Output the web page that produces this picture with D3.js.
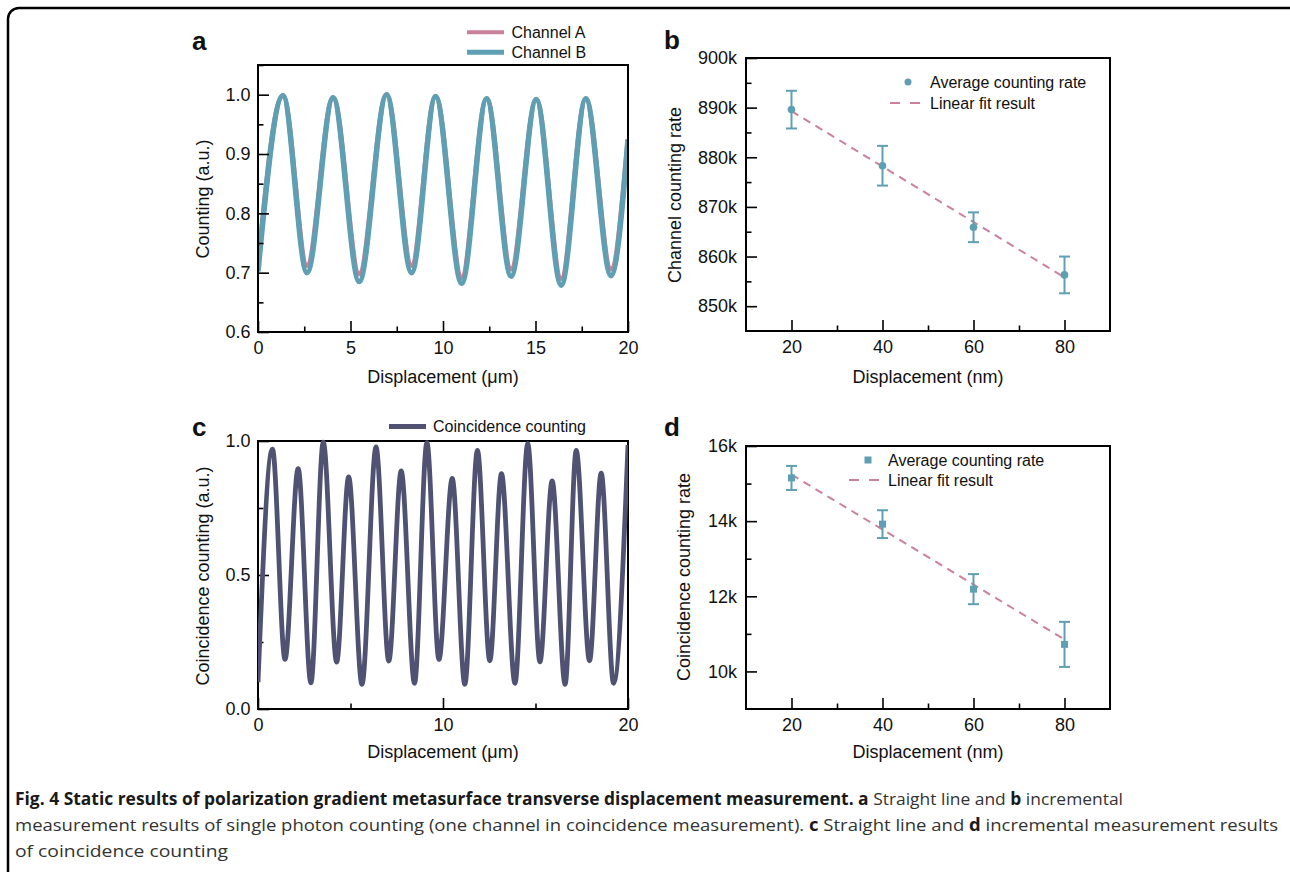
<!DOCTYPE html>
<html>
<head>
<meta charset="utf-8">
<script src="https://cdn.jsdelivr.net/npm/d3@7"></script>
<style>
  html, body { margin: 0; padding: 0; background: #fff; }
  svg { display: block; }
  text { font-family: "Liberation Sans", Arial, Helvetica, sans-serif; fill: #111; }
</style>
</head>
<body>
<svg id="fig" width="1290" height="872"></svg>
<script>
// ---------------- DATA ----------------
// Panel a: extrema (x in µm, normalised counting)
const channelA = [[0,0.710],[1.35,0.998],[2.65,0.712],[4.06,0.995],[5.47,0.698],[6.95,1.0],[8.30,0.712],[9.60,0.997],[11.01,0.692],[12.36,0.993],[13.68,0.706],[15.04,0.992],[16.39,0.690],[17.72,0.993],[19.08,0.706],[20,0.925]];
const channelB = [[0,0.702],[1.35,0.998],[2.65,0.700],[4.06,0.995],[5.47,0.685],[6.95,1.0],[8.30,0.700],[9.60,0.997],[11.01,0.682],[12.36,0.993],[13.68,0.694],[15.04,0.992],[16.39,0.679],[17.72,0.993],[19.08,0.695],[20,0.924]];
const aXTicks = [0,5,10,15,20];
const aXMinor = [2.5,7.5,12.5,17.5];
const aYTicks = [0.6,0.7,0.8,0.9,1.0];
const aYMinor = [0.65,0.75,0.85,0.95,1.05];

// Panel b: average channel counting rate (k counts) vs displacement (nm)
const bDisp = [20,40,60,80];
const bRate = [889.6,878.3,865.9,856.3];
const bErr  = [3.8,4.0,3.0,3.7];
const bFit  = [[20,889.3],[80,855.8]];
const bXTicks = [20,40,60,80];
const bXMinor = [30,50,70];
const bYTicks = [850,860,870,880,890,900];
const bYMinor = [855,865,875,885,895];

// Panel c: coincidence counting extrema
const coincidence = [[0,0.10],[0.78,0.970],[1.46,0.185],[2.17,0.897],[2.86,0.098],[3.53,0.996],[4.25,0.175],[4.90,0.866],[5.62,0.092],[6.38,0.978],[7.07,0.179],[7.74,0.888],[8.46,0.096],[9.13,0.994],[9.78,0.185],[10.50,0.860],[11.18,0.092],[11.86,0.965],[12.53,0.180],[13.16,0.878],[13.89,0.096],[14.58,0.990],[15.24,0.176],[15.90,0.851],[16.60,0.092],[17.20,0.965],[17.92,0.180],[18.55,0.880],[19.22,0.096],[20,0.985]];
const cXTicks = [0,10,20];
const cXMinor = [5,15];
const cYTicks = [0,0.5,1.0];
const cYMinor = [0.25,0.75];

// Panel d: average coincidence counting rate (k) vs displacement (nm)
const dDisp = [20,40,60,80];
const dRate = [15.15,13.92,12.19,10.72];
const dErr  = [0.32,0.37,0.40,0.60];
const dFit  = [[20,15.24],[80,10.85]];
const dXTicks = [20,40,60,80];
const dXMinor = [30,50,70];
const dYTicks = [10,12,14,16];
const dYMinor = [11,13,15];

// ---------------- STYLE ----------------
const colA = "#c98099";
const colB = "#5e9fb3";
const colC = "#4f5273";
const colFit = "#cc8099";
const FONT = 18;

const svg = d3.select("#fig");

// outer rounded frame
svg.append("rect").attr("x", 8).attr("y", 8).attr("width", 1292).attr("height", 875)
  .attr("rx", 11).attr("fill", "none").attr("stroke", "#000").attr("stroke-width", 2.5);

function frame(g, x, y, xT, xM, yT, yM, xFmt, yFmt, xPad, yPad) {
  const [x0, x1] = x.range(), [y0, y1] = y.range();
  g.append("g").attr("transform", `translate(0,${y0})`)
    .call(d3.axisBottom(x).tickValues(xM).tickSize(-5.5).tickFormat(""))
    .call(s => s.select(".domain").remove())
    .selectAll("line").attr("stroke-width", 1.6);
  g.append("g").attr("transform", `translate(${x0},0)`)
    .call(d3.axisLeft(y).tickValues(yM).tickSize(-5.5).tickFormat(""))
    .call(s => s.select(".domain").remove())
    .selectAll("line").attr("stroke-width", 1.6);
  const bx = g.append("g").attr("transform", `translate(0,${y0})`)
    .call(d3.axisBottom(x).tickValues(xT).tickSize(-11).tickPadding(xPad).tickFormat(xFmt));
  bx.select(".domain").remove();
  bx.selectAll("line").attr("stroke-width", 1.6);
  bx.selectAll("text").attr("font-size", FONT).attr("font-family", '"Liberation Sans", Arial, sans-serif').attr("fill", "#111");
  const ly = g.append("g").attr("transform", `translate(${x0},0)`)
    .call(d3.axisLeft(y).tickValues(yT).tickSize(-11).tickPadding(yPad).tickFormat(yFmt));
  ly.select(".domain").remove();
  ly.selectAll("line").attr("stroke-width", 1.6);
  ly.selectAll("text").attr("font-size", FONT).attr("font-family", '"Liberation Sans", Arial, sans-serif').attr("fill", "#111");
}
function box(g, x, y) {
  const [x0, x1] = x.range(), [y0, y1] = y.range();
  g.append("rect").attr("x", x0).attr("y", y1).attr("width", x1 - x0).attr("height", y0 - y1)
    .attr("fill", "none").attr("stroke", "#000").attr("stroke-width", 2);
}
function clip(id, x, y) {
  const [x0, x1] = x.range(), [y0, y1] = y.range();
  svg.append("clipPath").attr("id", id).append("rect")
    .attr("x", x0).attr("y", y1 - 3).attr("width", x1 - x0).attr("height", y0 - y1 + 3);
}
function label(t, x, y) {
  svg.append("text").attr("x", x).attr("y", y).attr("font-size", 26).attr("font-weight", "bold").text(t);
}
function xTitle(t, x, y) {
  svg.append("text").attr("x", x).attr("y", y).attr("text-anchor", "middle").attr("font-size", FONT).text(t);
}
function yTitle(t, x, y) {
  svg.append("text").attr("transform", `translate(${x},${y}) rotate(-90)`).attr("text-anchor", "middle").attr("font-size", FONT).text(t);
}
const f1 = d3.format(".1f");
const fk = d => d + "k";

// ---------------- PANEL A ----------------
{
  const x = d3.scaleLinear().domain([0, 20]).range([258, 628]);
  const y = d3.scaleLinear().domain([0.6, 1.05]).range([332, 65]);
  const g = svg.append("g");
  clip("clipA", x, y);
  const line = d3.line().x(d => x(d[0])).y(d => y(d[1])).curve(d3.curveMonotoneX);
  const lg = g.append("g").attr("clip-path", "url(#clipA)");
  lg.append("path").datum(channelA).attr("d", line).attr("fill", "none").attr("stroke", colA).attr("stroke-width", 5);
  lg.append("path").datum(channelB).attr("d", line).attr("fill", "none").attr("stroke", colB).attr("stroke-width", 5.5).attr("stroke-linejoin", "round");
  frame(g, x, y, aXTicks, aXMinor, aYTicks, aYMinor, d3.format("d"), f1, 9, 7.5);
  box(g, x, y);
  label("a", 192, 50);
  xTitle("Displacement (\u03bcm)", 443, 383);
  yTitle("Counting (a.u.)", 209, 199);
  const leg = [["Channel A", colA, 32.3, 4], ["Channel B", colB, 52.3, 5]];
  leg.forEach(([t, c, yy, w]) => {
    svg.append("line").attr("x1", 467).attr("x2", 504).attr("y1", yy).attr("y2", yy).attr("stroke", c).attr("stroke-width", w);
    svg.append("text").attr("x", 511.5).attr("y", yy).attr("dy", "0.35em").attr("font-size", 16).text(t);
  });
}

// ---------------- PANEL B ----------------
{
  const x = d3.scaleLinear().domain([10, 90]).range([746, 1110]);
  const y = d3.scaleLinear().domain([845, 900]).range([331, 58]);
  const g = svg.append("g");
  frame(g, x, y, bXTicks, bXMinor, bYTicks, bYMinor, d3.format("d"), fk, 9, 9);
  const fitLine = d3.line().x(d => x(d[0])).y(d => y(d[1]));
  g.append("path").datum(bFit).attr("d", fitLine).attr("stroke", colFit).attr("stroke-width", 2).attr("stroke-dasharray", "8,6").attr("fill", "none");
  bDisp.forEach((d, i) => {
    const cx = x(d), t = y(bRate[i] + bErr[i]), b = y(bRate[i] - bErr[i]);
    g.append("line").attr("x1", cx).attr("x2", cx).attr("y1", t).attr("y2", b).attr("stroke", colB).attr("stroke-width", 2);
    g.append("line").attr("x1", cx - 5.5).attr("x2", cx + 5.5).attr("y1", t).attr("y2", t).attr("stroke", colB).attr("stroke-width", 2);
    g.append("line").attr("x1", cx - 5.5).attr("x2", cx + 5.5).attr("y1", b).attr("y2", b).attr("stroke", colB).attr("stroke-width", 2);
    g.append("circle").attr("cx", cx).attr("cy", y(bRate[i])).attr("r", 3.8).attr("fill", colB);
  });
  box(g, x, y);
  label("b", 664, 49);
  xTitle("Displacement (nm)", 928, 383);
  yTitle("Channel counting rate", 681, 195);
  svg.append("circle").attr("cx", 908).attr("cy", 82).attr("r", 3.5).attr("fill", colB);
  svg.append("text").attr("x", 930).attr("y", 82).attr("dy", "0.35em").attr("font-size", 16).text("Average counting rate");
  svg.append("line").attr("x1", 890).attr("x2", 922).attr("y1", 103).attr("y2", 103).attr("stroke", colFit).attr("stroke-width", 2).attr("stroke-dasharray", "10,10");
  svg.append("text").attr("x", 930).attr("y", 103).attr("dy", "0.35em").attr("font-size", 16).text("Linear fit result");
}

// ---------------- PANEL C ----------------
{
  const x = d3.scaleLinear().domain([0, 20]).range([258, 628]);
  const y = d3.scaleLinear().domain([0, 1]).range([709, 441]);
  const g = svg.append("g");
  clip("clipC", x, y);
  frame(g, x, y, cXTicks, cXMinor, cYTicks, cYMinor, d3.format("d"), f1, 9, 7.5);
  box(g, x, y);
  const line = d3.line().x(d => x(d[0])).y(d => y(d[1])).curve(d3.curveMonotoneX);
  g.append("g").attr("clip-path", "url(#clipC)").append("path").datum(coincidence).attr("d", line)
    .attr("fill", "none").attr("stroke", colC).attr("stroke-width", 4.8);
  label("c", 192, 436);
  xTitle("Displacement (\u03bcm)", 443, 758);
  yTitle("Coincidence counting (a.u.)", 209, 576);
  svg.append("line").attr("x1", 389).attr("x2", 426).attr("y1", 426.5).attr("y2", 426.5).attr("stroke", colC).attr("stroke-width", 5);
  svg.append("text").attr("x", 433).attr("y", 426.5).attr("dy", "0.35em").attr("font-size", 16).text("Coincidence counting");
}

// ---------------- PANEL D ----------------
{
  const x = d3.scaleLinear().domain([10, 90]).range([746, 1110]);
  const y = d3.scaleLinear().domain([9, 16]).range([709, 446]);
  const g = svg.append("g");
  frame(g, x, y, dXTicks, dXMinor, dYTicks, dYMinor, d3.format("d"), fk, 9, 9);
  const fitLine = d3.line().x(d => x(d[0])).y(d => y(d[1]));
  g.append("path").datum(dFit).attr("d", fitLine).attr("stroke", colFit).attr("stroke-width", 2).attr("stroke-dasharray", "8,6").attr("fill", "none");
  dDisp.forEach((d, i) => {
    const cx = x(d), t = y(dRate[i] + dErr[i]), b = y(dRate[i] - dErr[i]);
    g.append("line").attr("x1", cx).attr("x2", cx).attr("y1", t).attr("y2", b).attr("stroke", colB).attr("stroke-width", 2);
    g.append("line").attr("x1", cx - 5.5).attr("x2", cx + 5.5).attr("y1", t).attr("y2", t).attr("stroke", colB).attr("stroke-width", 2);
    g.append("line").attr("x1", cx - 5.5).attr("x2", cx + 5.5).attr("y1", b).attr("y2", b).attr("stroke", colB).attr("stroke-width", 2);
    g.append("rect").attr("x", cx - 3.5).attr("y", y(dRate[i]) - 3.5).attr("width", 7).attr("height", 7).attr("fill", colB);
  });
  box(g, x, y);
  label("d", 664, 436);
  xTitle("Displacement (nm)", 928, 758);
  yTitle("Coincidence counting rate", 690, 577);
  svg.append("rect").attr("x", 864.5).attr("y", 456.5).attr("width", 7).attr("height", 7).attr("fill", colB);
  svg.append("text").attr("x", 888).attr("y", 460).attr("dy", "0.35em").attr("font-size", 16).text("Average counting rate");
  svg.append("line").attr("x1", 849).attr("x2", 881).attr("y1", 480).attr("y2", 480).attr("stroke", colFit).attr("stroke-width", 2).attr("stroke-dasharray", "10,10");
  svg.append("text").attr("x", 888).attr("y", 480).attr("dy", "0.35em").attr("font-size", 16).text("Linear fit result");
}

// ---------------- CAPTION ----------------
const captionLines = [
  { y: 805, len: 1108, parts: [["Fig. 4 Static results of polarization gradient metasurface transverse displacement measurement.", true], [" ", false], ["a", true], [" Straight line and ", false], ["b", true], [" incremental", false]] },
  { y: 831, len: 1263, parts: [["measurement results of single photon counting (one channel in coincidence measurement). ", false], ["c", true], [" Straight line and ", false], ["d", true], [" incremental measurement results", false]] },
  { y: 857, len: 213, parts: [["of coincidence counting", false]] }
];
captionLines.forEach(l => {
  const t = svg.append("text").attr("x", 15).attr("y", l.y)
    .attr("font-size", 17).style("font-family", '"Open Sans", "Noto Sans", sans-serif')
    .attr("textLength", l.len).attr("lengthAdjust", "spacingAndGlyphs");
  l.parts.forEach(([s, b]) => {
    t.append("tspan").text(s).attr("font-weight", b ? "bold" : "normal").attr("fill", b ? "#1a1a1a" : "#333");
  });
});
</script>
</body>
</html>
